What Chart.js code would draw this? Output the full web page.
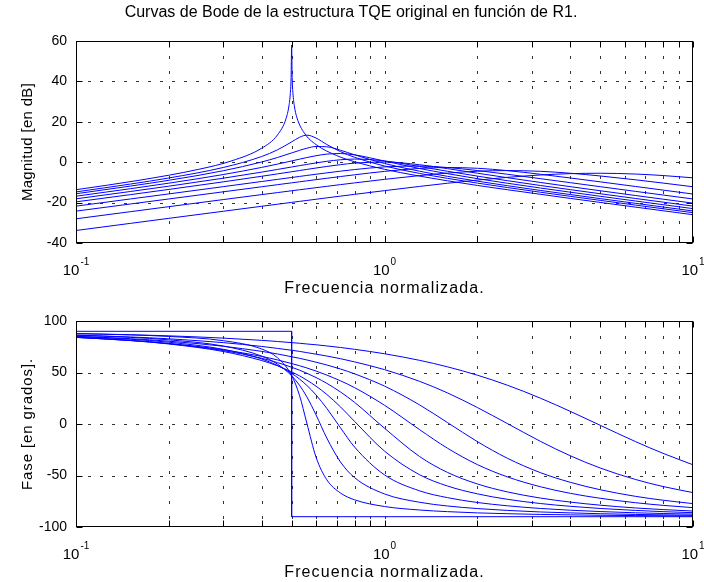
<!DOCTYPE html>
<html>
<head>
<meta charset="utf-8">
<title>Curvas de Bode</title>
<script src="https://cdn.jsdelivr.net/npm/chart.js@4"></script>
<style>
  html, body { margin: 0; padding: 0; background: #fff; }
  #wrap { position: relative; width: 704px; height: 582px; background: #fff; overflow: hidden; }
  canvas { position: absolute; left: 0; }
  #cMag { top: 0; }
  #cPh { top: 282px; }
</style>
</head>
<body>
<div id="wrap">
  <canvas id="cMag" width="704" height="300"></canvas>
  <canvas id="cPh" width="704" height="300"></canvas>
</div>
<script>
// ---- axis ticks ----
const xDecades = [0.1, 1, 10];
const xDecadeExp = ['-1', '0', '1'];
const xGridTicks = [0.1, 0.2, 0.3, 0.4, 0.5, 0.6, 0.7, 0.8, 0.9, 1, 2, 3, 4, 5, 6, 7, 8, 9, 10];
const magTicks = [-40, -20, 0, 20, 40, 60];
const phaseTicks = [-100, -50, 0, 50, 100];

// ---- normalized frequency samples ----
const freq = [0.1, 0.15, 0.2, 0.3, 0.4, 0.45, 0.5, 0.53, 0.56, 0.6, 0.65, 0.72, 0.8, 1, 1.3, 1.6, 2, 2.5, 3.2, 4, 5, 6.5, 8, 10];
const freqR1inf = [0.1, 0.16, 0.25, 0.32, 0.4, 0.45, 0.48, 0.49, 0.495, 0.498, 0.5, 0.502, 0.505, 0.51, 0.52, 0.55, 0.6, 0.7, 0.8, 1, 1.6, 2.5, 4, 6.3, 10];
const freqStep = [0.1, 0.5, 0.5, 10];

// ---- magnitude [dB], one array per value of R1 ----
const mag1 = [-13.62, -8.96, -3.52, 0.70, 6.94, 13.51, 21.76, 27.87, 33.94, 41.9, 58.0, 41.95, 34.02, 28.04, 22.11, 14.38, 8.71, 3.28, 0.22, -3.52, -9.21, -13.62, -17.92, -21.95, -26.0];
const mag2 = [-14.70, -10.83, -7.81, -2.62, 2.83, 6.14, 10.05, 12.32, 13.39, 11.95, 8.76, 5.23, 2.43, -1.87, -5.57, -8.00, -10.35, -12.54, -14.86, -16.89, -18.89, -21.22, -23.04, -24.99];
const mag3 = [-15.62, -11.83, -8.95, -4.24, 0.11, 2.34, 4.58, 5.85, 6.92, 7.77, 7.63, 5.93, 3.65, -0.63, -4.47, -6.99, -9.39, -11.62, -13.97, -16.01, -18.02, -20.35, -22.18, -24.14];
const mag4 = [-16.83, -13.13, -10.38, -6.12, -2.57, -0.93, 0.62, 1.49, 2.30, 3.21, 4.00, 4.29, 3.63, 0.58, -3.13, -5.68, -8.14, -10.41, -12.78, -14.84, -16.86, -19.20, -21.03, -22.99];
const mag5 = [-18.14, -14.51, -11.86, -7.93, -4.90, -3.58, -2.38, -1.71, -1.09, -0.35, 0.44, 1.20, 1.56, 0.63, -2.13, -4.49, -6.89, -9.14, -11.52, -13.58, -15.61, -17.95, -19.78, -21.74];
const mag6 = [-19.64, -16.06, -13.48, -9.74, -6.96, -5.78, -4.72, -4.13, -3.57, -2.88, -2.11, -1.21, -0.46, 0.11, -1.26, -3.18, -5.44, -7.66, -10.02, -12.10, -14.13, -16.47, -18.31, -20.27];
const mag7 = [-21.75, -18.21, -15.69, -12.11, -9.55, -8.50, -7.57, -7.05, -6.56, -5.96, -5.28, -4.44, -3.64, -2.32, -1.91, -2.63, -4.12, -5.96, -8.14, -10.13, -12.11, -14.43, -16.25, -18.21];
const mag8 = [-24.22, -20.70, -18.20, -14.66, -12.16, -11.13, -10.22, -9.71, -9.24, -8.64, -7.96, -7.10, -6.24, -4.55, -3.08, -2.62, -3.01, -4.17, -5.97, -7.81, -9.72, -12.00, -13.81, -15.76];
const mag9 = [-28.02, -24.50, -22.01, -18.51, -16.04, -15.04, -14.14, -13.65, -13.19, -12.61, -11.94, -11.10, -10.25, -8.50, -6.63, -5.40, -4.48, -4.14, -4.51, -5.46, -6.81, -8.70, -10.33, -12.16];
const mag10 = [-33.81, -30.29, -27.79, -24.29, -21.81, -20.80, -19.89, -19.40, -18.93, -18.34, -17.66, -16.80, -15.92, -14.08, -11.99, -10.42, -8.86, -7.50, -6.33, -5.67, -5.47, -5.86, -6.60, -7.73];

// ---- phase [degrees] ----
const phase1 = [90, 90, -90, -90];
const phase2 = [87.7, 86.5, 85.0, 80.9, 72.8, 64.3, 47.2, 28.0, 0.9, -32.2, -54.1, -67.0, -73.6, -80.1, -83.5, -85.1, -86.3, -87.1, -87.8, -88.2, -88.6, -88.9, -89.1, -89.3];
const phase3 = [86.2, 84.1, 81.7, 75.7, 65.9, 58.1, 46.8, 37.7, 26.4, 8.8, -13.6, -36.9, -52.1, -67.9, -76.0, -79.6, -82.1, -83.9, -85.4, -86.3, -87.1, -87.8, -88.2, -88.6];
const phase4 = [85.0, 82.3, 79.4, 72.5, 63.1, 56.8, 49.1, 43.7, 37.5, 28.2, 15.2, -3.7, -22.4, -49.4, -64.9, -71.5, -76.2, -79.4, -82.0, -83.7, -85.0, -86.2, -86.9, -87.5];
const phase5 = [84.1, 81.0, 77.7, 70.4, 61.6, 56.5, 50.6, 46.8, 42.6, 36.7, 28.7, 16.6, 2.5, -26.3, -49.3, -60.2, -67.8, -73.1, -77.2, -79.9, -82.0, -83.9, -85.1, -86.1];
const phase6 = [84.1, 81.1, 78.0, 71.3, 63.8, 59.6, 55.1, 52.3, 49.3, 45.1, 39.5, 31.1, 21.0, -4.1, -31.6, -47.0, -58.2, -65.9, -71.9, -75.8, -78.8, -81.5, -83.1, -84.5];
const phase7 = [84.2, 81.2, 78.2, 72.1, 65.6, 62.2, 58.7, 56.6, 54.4, 51.4, 47.5, 41.9, 35.3, 18.2, -5.5, -23.5, -39.4, -51.3, -60.9, -67.3, -72.1, -76.4, -79.0, -81.2];
const phase8 = [85.2, 82.8, 80.4, 75.5, 70.5, 68.0, 65.3, 63.8, 62.2, 60.0, 57.3, 53.4, 48.7, 36.8, 18.5, 1.4, -17.1, -33.2, -47.2, -56.6, -63.8, -70.2, -74.0, -77.3];
const phase9 = [86.3, 84.5, 82.7, 79.0, 75.3, 73.4, 71.6, 70.5, 69.3, 67.8, 66.0, 63.4, 60.3, 52.8, 41.4, 30.2, 16.0, 0.5, -16.8, -30.8, -42.7, -53.8, -60.7, -66.6];
const phase10 = [87.8, 86.7, 85.6, 83.4, 81.2, 80.1, 79.0, 78.4, 77.7, 76.9, 75.8, 74.3, 72.5, 68.2, 61.8, 55.5, 47.4, 37.7, 25.1, 12.3, -1.2, -17.0, -28.5, -39.6];

const FONT = '"Liberation Sans", Arial, Helvetica, sans-serif';
const LINE_BLUE = '#0000ff';

function curve(xs, ys, smooth) {
  return {
    data: xs.map((v, i) => ({ x: v, y: ys[i] })),
    borderColor: LINE_BLUE,
    borderWidth: 1,
    pointRadius: 0,
    fill: false,
    tension: 0,
    cubicInterpolationMode: smooth ? 'monotone' : 'default'
  };
}

function spacedText(ctx, text, x, y, spacing) {
  if ('letterSpacing' in ctx) {
    ctx.letterSpacing = spacing + 'px';
    ctx.fillText(text, x, y);
    ctx.letterSpacing = '0px';
  } else {
    ctx.fillText(text, x, y);
  }
}

// MATLAB-like frame: dotted grid, inward ticks on all sides, tick labels, titles
const matlabAxes = {
  id: 'matlabAxes',
  beforeDatasetsDraw(chart, args, o) {
    const { ctx, chartArea: a, scales: { x, y } } = chart;
    ctx.save();
    ctx.strokeStyle = 'rgba(0,0,0,0.8)';
    ctx.lineWidth = 1;
    ctx.setLineDash([3, 9]);
    o.yTicks.forEach(v => {
      if (v <= y.min || v >= y.max) return;
      const py = Math.round(y.getPixelForValue(v)) + 0.5;
      ctx.beginPath(); ctx.moveTo(a.left, py); ctx.lineTo(a.right, py); ctx.stroke();
    });
    ctx.setLineDash([3, 12]);
    xGridTicks.forEach(v => {
      if (v <= x.min || v >= x.max) return;
      const px = Math.round(x.getPixelForValue(v)) + 0.5;
      ctx.beginPath(); ctx.moveTo(px, a.top); ctx.lineTo(px, a.bottom); ctx.stroke();
    });
    ctx.restore();
  },
  afterDraw(chart, args, o) {
    const { ctx, chartArea: a, scales: { x, y } } = chart;
    const L = Math.round(a.left) + 0.5, R = Math.round(a.right) - 0.5;
    const T = Math.round(a.top) + 0.5, B = Math.round(a.bottom) - 0.5;
    ctx.save();
    ctx.setLineDash([]);
    ctx.strokeStyle = '#000';
    ctx.lineWidth = 1;
    ctx.strokeRect(L, T, R - L, B - T);
    const tl = 6;
    ctx.beginPath();
    xGridTicks.forEach(v => {
      const px = Math.round(x.getPixelForValue(v)) + 0.5;
      ctx.moveTo(px, B); ctx.lineTo(px, B - tl);
      ctx.moveTo(px, T); ctx.lineTo(px, T + tl);
    });
    o.yTicks.forEach(v => {
      const py = Math.round(y.getPixelForValue(v)) + 0.5;
      ctx.moveTo(L, py); ctx.lineTo(L + tl, py);
      ctx.moveTo(R, py); ctx.lineTo(R - tl, py);
    });
    ctx.stroke();

    ctx.fillStyle = '#000';

    // y tick labels
    ctx.font = `14px ${FONT}`;
    ctx.textAlign = 'right';
    ctx.textBaseline = 'middle';
    o.yTicks.forEach(v => {
      ctx.fillText(String(v), a.left - 9, y.getPixelForValue(v));
    });

    // decade labels 10^n
    ctx.textBaseline = 'alphabetic';
    ctx.textAlign = 'left';
    xDecades.forEach((v, i) => {
      const px = x.getPixelForValue(v);
      ctx.font = `15px ${FONT}`;
      const wBase = ctx.measureText('10').width;
      ctx.font = `10px ${FONT}`;
      const wExp = ctx.measureText(xDecadeExp[i]).width;
      const x0 = px - (wBase + wExp + 1) / 2;
      ctx.font = `15px ${FONT}`;
      ctx.fillText('10', x0, a.bottom + o.decadeBase);
      ctx.font = `10px ${FONT}`;
      ctx.fillText(xDecadeExp[i], x0 + wBase + 1, a.bottom + o.decadeBase - 10);
    });

    // axis titles
    ctx.textAlign = 'center';
    ctx.textBaseline = 'middle';
    ctx.font = `16px ${FONT}`;
    spacedText(ctx, o.xTitle, (a.left + a.right) / 2, a.bottom + o.xTitleOffset, 1.1);
    ctx.font = `15px ${FONT}`;
    ctx.save();
    ctx.translate(28, (a.top + a.bottom) / 2);
    ctx.rotate(-Math.PI / 2);
    spacedText(ctx, o.yTitle, 0, 0, o.yTitleSpacing);
    ctx.restore();
    if (o.title) {
      ctx.font = `16px ${FONT}`;
      ctx.fillText(o.title, 351, 13);
    }
    ctx.restore();
  }
};

function makeChart(id, datasets, yMin, yMax, yTicks, top, xh, texts) {
  return new Chart(document.getElementById(id), {
    type: 'line',
    data: { datasets },
    options: {
      responsive: false,
      animation: false,
      events: [],
      layout: { padding: { left: 0, right: 11, top: top, bottom: 0 } },
      plugins: {
        legend: { display: false },
        tooltip: { enabled: false },
        title: { display: false },
        matlabAxes: Object.assign({ yTicks: yTicks, decadeBase: 32, xTitleOffset: 46 }, texts)
      },
      scales: {
        x: {
          type: 'logarithmic', min: 0.1, max: 10,
          grid: { display: false, drawTicks: false }, border: { display: false },
          ticks: { display: false },
          afterBuildTicks: s => { s.ticks = xGridTicks.map(v => ({ value: v })); },
          afterFit: s => { s.height = xh; }
        },
        y: {
          type: 'linear', min: yMin, max: yMax,
          grid: { display: false, drawTicks: false }, border: { display: false },
          ticks: { display: false },
          afterBuildTicks: s => { s.ticks = yTicks.map(v => ({ value: v })); },
          afterFit: s => { s.width = 76; }
        }
      }
    },
    plugins: [matlabAxes]
  });
}

const magSets = [
  curve(freqR1inf, mag1, true),
  curve(freq, mag2, true), curve(freq, mag3, true), curve(freq, mag4, true),
  curve(freq, mag5, true), curve(freq, mag6, true), curve(freq, mag7, true),
  curve(freq, mag8, true), curve(freq, mag9, true), curve(freq, mag10, true)
];
const phaseSets = [
  curve(freqStep, phase1, false),
  curve(freq, phase2, true), curve(freq, phase3, true), curve(freq, phase4, true),
  curve(freq, phase5, true), curve(freq, phase6, true), curve(freq, phase7, true),
  curve(freq, phase8, true), curve(freq, phase9, true), curve(freq, phase10, true)
];

makeChart('cMag', magSets, -40, 60, magTicks, 41, 57, {
  title: 'Curvas de Bode de la estructura TQE original en función de R1.',
  xTitle: 'Frecuencia normalizada.',
  yTitle: 'Magnitud [en dB]',
  yTitleSpacing: 0.3
});
makeChart('cPh', phaseSets, -100, 100, phaseTicks, 39, 55, {
  xTitle: 'Frecuencia normalizada.',
  yTitle: 'Fase [en grados].',
  yTitleSpacing: 0.9
});
</script>
</body>
</html>
